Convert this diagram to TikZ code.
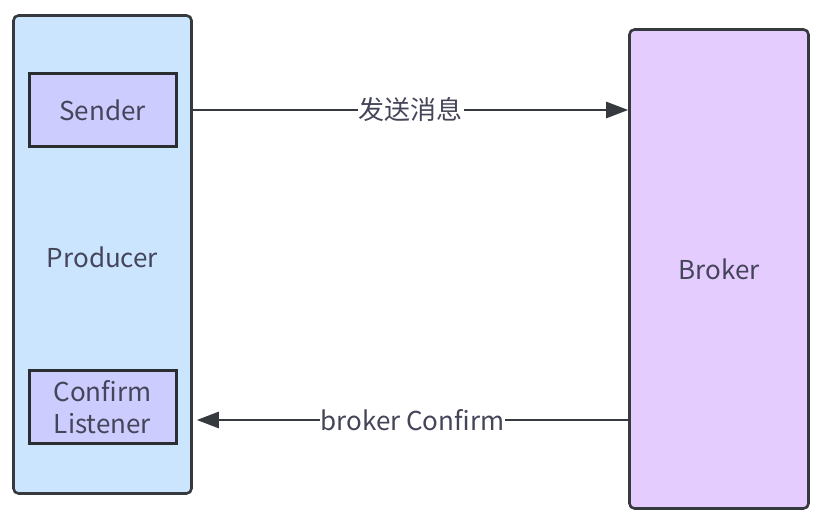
\documentclass[tikz,border=0pt]{standalone}
\usepackage{fontspec}
\setmainfont{Noto Sans CJK SC}
\usetikzlibrary{arrows.meta}
\definecolor{producerfill}{HTML}{CCE5FF}
\definecolor{innerfill}{HTML}{CCCCFF}
\definecolor{brokerfill}{HTML}{E5CCFF}
\definecolor{linecol}{HTML}{36393D}
\definecolor{textcol}{HTML}{45455A}

\begin{document}
\begin{tikzpicture}[x=1pt,y=1pt]
        \tikzstyle{every node}=[text=textcol,font=\fontsize{26}{32}\selectfont]
        \tikzstyle{bigbox}=[draw=linecol,line width=2.6pt,rounded corners=5pt,inner sep=0pt]
        \tikzstyle{smallbox}=[draw=linecol!80!black,fill=innerfill,line width=3pt,inner sep=0pt,minimum width=147pt,minimum height=73pt,align=center]
        \tikzstyle{msg}=[->,>={Triangle[length=22pt,width=16pt]},draw=linecol,line width=2.6pt]
        \useasboundingbox (0,0) rectangle (821,521);
        \node[bigbox,fill=producerfill,minimum width=178pt,minimum height=478pt] (producer) at (102.5,266.5) {};
        \node at (102.5,264) {Producer};
        \node[smallbox] (sender) at (102.5,411) {Sender};
        \node[smallbox] (listener) at (102.5,113.5) {Confirm\\Listener};
        \node[bigbox,fill=brokerfill,minimum width=179pt,minimum height=479pt] (broker) at (719,252) {Broker};
        \draw[msg] (producer.east |- sender) -- node[fill=white,inner sep=1pt] {发送消息} (broker.west |- sender);
        \draw[msg] (broker.west |- 0,101) -- node[fill=white,inner sep=1pt] {broker Confirm} ([xshift=4pt]producer.east |- 0,101);
\end{tikzpicture}
\end{document}
